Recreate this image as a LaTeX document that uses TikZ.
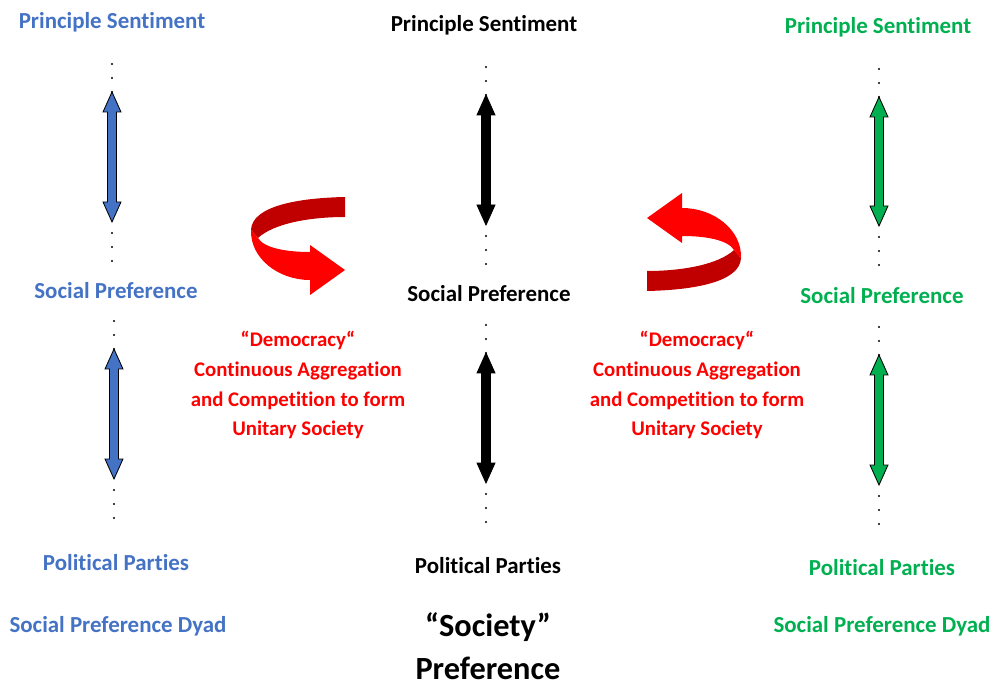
\documentclass[tikz,border=0pt]{standalone}
\usepackage{fontspec}
\setmainfont[Ligatures=NoCommon]{Carlito}
\definecolor{sblue}{HTML}{4472C4}
\definecolor{sgreen}{HTML}{00B050}
\definecolor{sred}{HTML}{FF0000}
\definecolor{sdark}{HTML}{C00000}
\tikzset{
  lbl/.style={font=\fontsize{16.3}{18}\selectfont\bfseries},
  rtxt/.style={font=\fontsize{14.8}{21.3}\selectfont\bfseries, text=sred, align=center},
  big/.style={font=\fontsize{23}{30.5}\selectfont\bfseries, align=center}
}
% double headed arrow with dots above and below
\newcommand{\updown}[4]{
  \draw[fill=#4, line width=0.6pt] (#1,#2) -- (#1+9,#2+20) -- (#1+4.5,#2+20)
    -- (#1+4.5,#3-20) -- (#1+9,#3-20) -- (#1,#3) -- (#1-9,#3-20)
    -- (#1-4.5,#3-20) -- (#1-4.5,#2+20) -- (#1-9,#2+20) -- cycle;
  \foreach \d in {14,28} \fill (#1,#2-\d) circle (1.2);
  \fill (#1,#2) circle (1.2);
  \foreach \d in {11,25,39} \fill (#1,#3+\d) circle (1.2);
}
% twisted ribbon arrow
\newcommand{\ribbon}{
  \fill[sdark] (47,-49) .. controls (0,-48) and (-46,-40) .. (-47,-16)
    -- (-40,-8) .. controls (-25,-22) and (10,-29) .. (47,-29) -- cycle;
  \fill[sred] (-47,-16) .. controls (-48,12) and (-20,34) .. (12,34)
    -- (12,49) -- (47,24) -- (12,-1) -- (12,6)
    .. controls (-12,6) and (-34,2) .. (-40,-8) -- cycle;
}
\begin{document}
\begin{tikzpicture}[x=0.025cm, y=-0.025cm]
  \useasboundingbox (0,0) rectangle (999,688);

  % left dyad
  \node[lbl, text=sblue] (ps1) at (112,22) {Principle Sentiment};
  \node[lbl, text=sblue] (sp1) at (116,291) {Social Preference};
  \node[lbl, text=sblue] (pp1) at (116,563) {Political Parties};
  \node[lbl, text=sblue] (dy1) at (118,626) {Social Preference Dyad};
  \updown{112}{92}{222}{sblue}
  \updown{114}{349}{479}{sblue}

  % middle
  \node[lbl] (ps2) at (484,25) {Principle Sentiment};
  \node[lbl] (sp2) at (489,294) {Social Preference};
  \node[lbl] (pp2) at (488,566) {Political Parties};
  \node[big] (soc) at (488,646) {“Society”\\Preference};
  \updown{486}{95}{225}{black}
  \updown{486}{353}{483}{black}

  % right dyad
  \node[lbl, text=sgreen] (ps3) at (878,27) {Principle Sentiment};
  \node[lbl, text=sgreen] (sp3) at (882,296) {Social Preference};
  \node[lbl, text=sgreen] (pp3) at (882,568) {Political Parties};
  \node[lbl, text=sgreen] (dy3) at (882,626) {Social Preference Dyad};
  \updown{879}{97}{226}{sgreen}
  \updown{879}{355}{485}{sgreen}

  % democracy
  \node[rtxt] (dem1) at (298,385) {“Democracy“\\Continuous Aggregation\\and Competition to form\\Unitary Society};
  \node[rtxt] (dem2) at (697,385) {“Democracy“\\Continuous Aggregation\\and Competition to form\\Unitary Society};
  \begin{scope}[shift={(298,246)}]
    \ribbon
  \end{scope}
  \begin{scope}[shift={(694,242)}, rotate=180]
    \ribbon
  \end{scope}
\end{tikzpicture}
\end{document}
